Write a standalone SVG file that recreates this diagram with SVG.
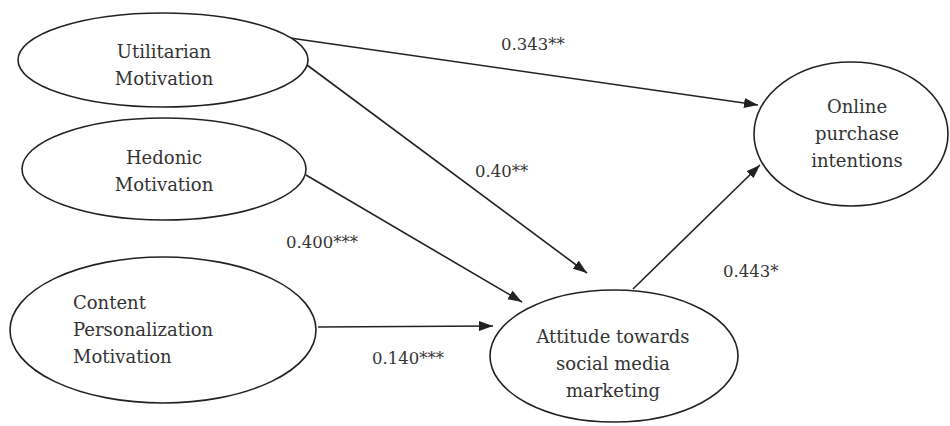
<svg xmlns="http://www.w3.org/2000/svg" width="950" height="426" viewBox="0 0 950 426">
<defs>
<style>
.n{fill:#fff;stroke:#222;stroke-width:1.6}
.t{font-family:'DejaVu Serif','Liberation Serif',serif;font-size:18px;fill:#333;text-anchor:middle}
.tl{font-family:'DejaVu Serif','Liberation Serif',serif;font-size:18px;fill:#333}
.c{stroke:#222;stroke-width:1.6;fill:none;marker-end:url(#ah)}
.l{font-family:'DejaVu Serif','Liberation Serif',serif;font-size:16.5px;fill:#333}
</style>
<marker id="ah" markerUnits="userSpaceOnUse" markerWidth="15" markerHeight="11" refX="14" refY="5" orient="auto">
<path d="M0,0 L14,5 L0,10 z" fill="#222"/>
</marker>
</defs>
<rect width="950" height="426" fill="#fff"/>
<g id="connectors">
<line class="c" x1="290" y1="38" x2="758" y2="105"/>
<line class="c" x1="307" y1="65" x2="587" y2="273"/>
<line class="c" x1="306" y1="175" x2="522" y2="302"/>
<line class="c" x1="318" y1="327" x2="493" y2="326"/>
<line class="c" x1="633" y1="289" x2="760" y2="165"/>
<text class="l" x="501" y="50">0.343**</text>
<text class="l" x="475" y="177">0.40**</text>
<text class="l" x="286" y="248">0.400***</text>
<text class="l" x="372" y="364">0.140***</text>
<text class="l" x="723" y="277">0.443*</text>
</g>
<g id="utilitarian">
<ellipse class="n" cx="163" cy="60" rx="145" ry="47"/>
<text class="t" x="164" y="58">Utilitarian</text>
<text class="t" x="164" y="85">Motivation</text>
</g>
<g id="hedonic">
<ellipse class="n" cx="164" cy="169" rx="142" ry="51"/>
<text class="t" x="164" y="164">Hedonic</text>
<text class="t" x="164" y="191">Motivation</text>
</g>
<g id="content">
<ellipse class="n" cx="163" cy="330" rx="153" ry="73"/>
<text class="tl" x="73" y="309">Content</text>
<text class="tl" x="73" y="336">Personalization</text>
<text class="tl" x="73" y="363">Motivation</text>
</g>
<g id="attitude">
<ellipse class="n" cx="614" cy="356" rx="124" ry="66"/>
<text class="t" x="613" y="343">Attitude towards</text>
<text class="t" x="613" y="370">social media</text>
<text class="t" x="613" y="397">marketing</text>
</g>
<g id="online">
<ellipse class="n" cx="851" cy="134" rx="97" ry="72"/>
<text class="t" x="857" y="113">Online</text>
<text class="t" x="857" y="140">purchase</text>
<text class="t" x="857" y="167">intentions</text>
</g>
</svg>
